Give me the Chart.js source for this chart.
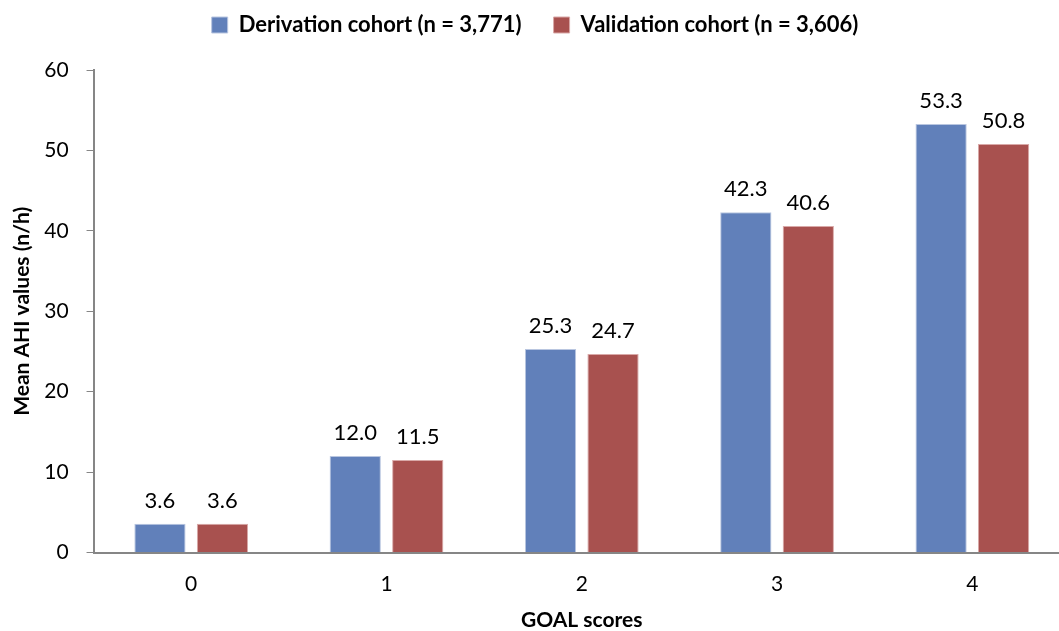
<!DOCTYPE html>
<html>
<head>
<meta charset="utf-8">
<script src="https://cdn.jsdelivr.net/npm/chart.js@4/dist/chart.umd.min.js"></script>
<style>
  html, body { margin: 0; padding: 0; background: #fff; overflow: hidden; }
  #wrap { width: 1070px; height: 631px; }
</style>
</head>
<body>
<div id="wrap"><canvas id="ahiChart"></canvas></div>
<script>
// data
const goalScores = ['0', '1', '2', '3', '4'];
const derivation = [3.6, 12.0, 25.3, 42.3, 53.3];
const validation = [3.6, 11.5, 24.7, 40.6, 50.8];
const yTicks = [0, 10, 20, 30, 40, 50, 60];

const FONT = 'Lato, "Open Sans", sans-serif';

// values written above each bar
const barLabels = {
  id: 'barLabels',
  afterDatasetsDraw(chart) {
    const ctx = chart.ctx;
    ctx.save();
    ctx.font = '22px ' + FONT;
    ctx.fillStyle = '#000';
    ctx.textAlign = 'center';
    ctx.textBaseline = 'alphabetic';
    chart.data.datasets.forEach((ds, i) => {
      chart.getDatasetMeta(i).data.forEach((bar, j) => {
        ctx.fillText(ds.data[j].toFixed(1), bar.x, bar.y - 16);
      });
    });
    ctx.restore();
  }
};

// more room between legend and plot
const legendGap = {
  id: 'legendGap',
  beforeInit(chart) {
    const fit = chart.legend.fit;
    chart.legend.fit = function () {
      fit.bind(chart.legend)();
      this.height = 88;
    };
  }
};

const ctx = document.getElementById('ahiChart').getContext('2d');

new Chart(ctx, {
  type: 'bar',
  data: {
    labels: goalScores,
    datasets: [{
      label: 'Derivation cohort (n = 3,771)',
      data: derivation,
      backgroundColor: '#6180ba',
      borderColor: '#b9c6e0',
      borderWidth: 1,
      barPercentage: 0.82,
      categoryPercentage: 0.64
    }, {
      label: 'Validation cohort (n = 3,606)',
      data: validation,
      backgroundColor: '#a8514f',
      borderColor: '#d9a9a8',
      borderWidth: 1,
      barPercentage: 0.82,
      categoryPercentage: 0.64
    }]
  },
  options: {
    responsive: true,
    maintainAspectRatio: false,
    animation: false,
    layout: { padding: { left: 0, right: 0, top: -18, bottom: -2 } },
    plugins: {
      legend: {
        position: 'top',
        labels: {
          boxWidth: 16,
          boxHeight: 16,
          padding: 32,
          color: '#000',
          font: { family: FONT, size: 22, weight: 'bold' }
        }
      },
      tooltip: { enabled: false }
    },
    scales: {
      x: {
        grid: { display: false },
        border: { color: '#868686', width: 2 },
        ticks: { color: '#000', padding: 11, font: { family: FONT, size: 21 } },
        title: {
          display: true,
          text: 'GOAL scores',
          color: '#000',
          padding: { top: 0, bottom: 0 },
          font: { family: FONT, size: 21, weight: 'bold' }
        }
      },
      y: {
        min: 0,
        max: 60,
        afterBuildTicks: axis => { axis.ticks = yTicks.map(v => ({ value: v })); },
        grid: { drawOnChartArea: false, drawTicks: true, tickLength: 7, color: '#868686' },
        border: { color: '#868686', width: 2 },
        ticks: { color: '#000', padding: 18, font: { family: FONT, size: 21 } },
        title: {
          display: true,
          text: 'Mean AHI values (n/h)',
          color: '#000',
          padding: { top: 10, bottom: -9 },
          font: { family: FONT, size: 21, weight: 'bold' }
        }
      }
    }
  },
  plugins: [barLabels, legendGap]
});
</script>
</body>
</html>
